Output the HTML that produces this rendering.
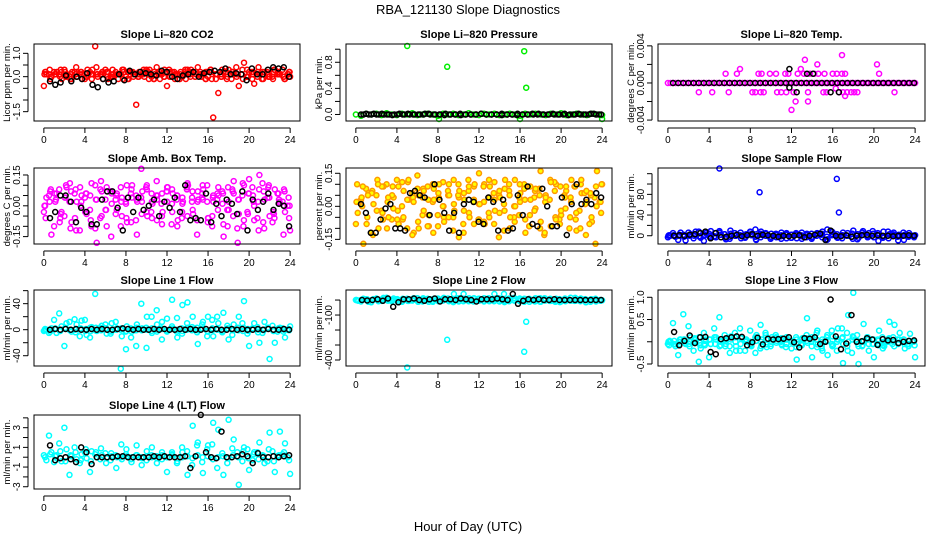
<!DOCTYPE html>
<html><head><meta charset="utf-8"><style>
html,body{margin:0;padding:0;background:#fff;}
svg{display:block;font-family:"Liberation Sans",sans-serif;}
</style></head><body>
<svg id="chart" width="936" height="540" viewBox="0 0 936 540">
<rect x="0" y="0" width="936" height="540" fill="#fff"/>
<text x="468" y="14" text-anchor="middle" font-size="13">RBA_121130  Slope Diagnostics</text>
<text x="468" y="531" text-anchor="middle" font-size="13">Hour of Day (UTC)</text>
</svg>
<script>
// ---- data arrays ----
const xTicks = [0,4,8,12,16,20,24];
const co2A = [-0.4,0.1,0.2,0.1,0.3,0.0,0.2,0.1,-0.1,0.2,1.3,0.1,0.3,0.0,0.2,0.1,0.0,0.2,-1.2,0.1,0.3,0.0,0.4,0.1,-0.4,0.2,0.1,0.0,0.3,0.2,0.4,0.1,0.0,-1.75,-0.7,0.2,0.3,0.1,-0.4,0.6,0.2,-0.3,0.1,0.2,0.0,0.3,0.1,-0.1,0.0];
const co2B = [0.1,0.0,0.2,-0.1,0.1,0.2,0.0,-0.1,0.3,0.1,0.0,-0.1,0.2,0.1,-0.1,0.3,0.2,0.1,0.0,0.2,0.1,-0.1,0.2,0.3,0.0,0.1,-0.1,0.2,0.1,0.0,0.2,-0.1,0.3,0.1,0.0,0.2,0.1,0.4,0.1,0.0,0.2,0.1,-0.1,0.2,0.0,0.1,0.3,0.1];
const co2C = [0.2,-0.1,0.1,0.3,0.0,0.1,0.4,0.2,0.0,-0.1,0.1,0.2,0.0,0.3,0.1,-0.1,0.2,0.0,0.1,0.3,-0.1,0.2,0.1,0.0,0.2,-0.1,0.1,0.3,0.0,0.2,0.1,-0.1,0.2,0.1,0.0,-0.1,0.2,0.1,0.3,0.0,0.1,0.2,-0.1,0.0,0.2,0.1,0.0,0.2];
const co2Black = [-0.2,-0.35,-0.25,0.05,-0.2,0.0,-0.1,0.15,-0.35,-0.45,-0.1,-0.25,-0.2,0.1,-0.15,0.25,0.1,0.2,0.15,0.1,0.05,0.25,0.2,0.0,-0.1,0.05,0.1,0.2,0.0,0.15,0.2,0.25,0.2,0.35,0.1,0.15,0.1,-0.15,0.35,0.1,0.1,0.3,0.4,0.35,0.4,0.0];

const presA = [0,-0.02,0.01,0,0.01,-0.01,0.02,0,-0.01,0.01,0,0.02,-0.01,0,0.01,0,-0.02,0.01,0,0.01,-0.01,0,0.02,0,-0.01,0.01,0,0.01,-0.01,0,0.01,0,-0.02,0.01,0,0.01,0,-0.01,0.01,0,0.02,-0.01,0,0.01,0,-0.01,0.01,0,-0.01];
const presOutX = [5.0,8.9,16.4,16.6,8.1,16.0,24.0];
const presOutY = [1.05,0.73,0.97,0.41,-0.07,-0.07,-0.07];
const presBlack = [0,0.01,0,0,0.01,0,-0.01,0,0,0.01,0,0,0,0.01,0,0,-0.01,0,0,0.01,0,0,0,0.01,0,0,0,-0.01,0,0,0.01,0,0,0,0.01,0,0,0,0,0.01,0,0,0,0,0.01,0,0];

const tempZero = [0,0,0,0,0,0,0,0,0,0,0,0,0,0,0,0,0,0,0,0,0,0,0,0,0,0,0,0,0,0,0,0,0,0,0,0,0,0,0,0,0,0,0,0,0,0,0,0,0,0,0,0,0,0,0,0,0,0,0,0,0,0,0,0,0,0,0,0,0,0,0,0,0,0,0,0,0,0,0,0,0,0,0,0,0,0,0,0,0,0,0,0,0,0,0,0,0];
const tempPosX = [5.6,6.7,8.8,9.1,9.9,10.5,11.4,11.7,12.6,13.2,13.8,14.2,14.6,15.2,16.0,16.4,16.9,17.2,20.5];
const tempNegX = [3.0,4.3,5.9,8.2,8.5,9.0,9.3,10.6,11.0,11.5,12.2,13.6,15.1,15.4,16.6,17.0,17.4,17.8,18.1,18.4,22.0];
const tempOutX = [7.0,12.9,13.3,14.5,16.9,20.3,16.3,17.2,12.4,13.6,12.0];
const tempOutY = [0.0015,0.0015,0.0025,0.002,0.003,0.002,-0.0006,-0.0014,-0.002,-0.002,-0.0029];
const tempBlackZero = [0,0,0,0,0,0,0,0,0,0,0,0,0,0,0,0,0,0,0,0,0,0,0,0,0,0,0,0,0,0,0,0,0,0,0,0,0,0,0,0,0,0,0,0,0,0,0,0];
const tempBlackX = [11.8,13.5,14.1,11.8,12.5,15.8,16.6];
const tempBlackY = [0.0015,0.001,0.001,-0.0005,-0.001,-0.001,-0.001];

const boxA = [-0.03,0.05,-0.1,0.08,-0.05,0.02,0.06,-0.12,0.04,-0.02,0.1,-0.06,0.03,0.07,-0.04,0.09,0.01,-0.08,0.05,0.18,-0.03,0.06,0.12,-0.05,0.02,0.08,-0.1,0.04,0.11,-0.02,0.07,0.03,-0.06,0.05,0.09,-0.09,0.02,0.06,-0.04,0.1,0.13,-0.07,0.15,0.03,-0.05,0.08,0.01,-0.03,-0.12];
const boxB = [0.04,-0.14,0.06,-0.03,0.09,-0.08,0.02,0.05,-0.04,0.11,-0.18,0.07,-0.1,0.01,0.06,-0.05,0.1,0.04,-0.14,0.02,0.08,-0.06,0.03,-0.09,0.07,0.01,0.05,-0.03,0.09,0.04,-0.07,0.06,0.02,-0.1,0.03,0.07,-0.02,0.08,-0.11,0.05,-0.03,0.09,-0.06,0.11,0.04,-0.08,0.06,0.02,0.0];
const boxC = [0.0,0.07,0.02,-0.06,0.04,-0.11,0.08,0.0,0.06,-0.07,0.03,0.12,-0.02,-0.15,0.05,0.02,-0.06,0.08,0.03,-0.04,0.1,0.02,-0.07,0.06,0.09,-0.03,0.05,0.01,-0.05,0.07,0.02,0.1,-0.08,0.04,-0.02,0.06,0.09,-0.05,0.03,-0.1,0.06,0.02,-0.12,0.07,0.1,-0.04,0.03,0.08,-0.06];
const boxBlack = [-0.06,-0.03,0.05,0.05,0.02,-0.08,-0.01,-0.03,-0.09,-0.09,0.03,0.07,0.07,-0.01,-0.12,0.04,-0.03,0.04,-0.02,0.0,0.03,-0.05,0.02,-0.01,0.04,-0.03,0.1,-0.07,-0.06,-0.07,0.06,-0.08,0.01,-0.05,0.03,0.01,-0.04,0.07,-0.12,0.03,-0.02,0.02,0.06,-0.02,0.01,0.0,-0.1];

const rhA = [-0.08,0.03,0.08,-0.12,0.05,-0.02,0.1,-0.06,0.12,0.0,-0.1,0.06,0.14,-0.04,0.09,0.02,-0.09,0.11,0.05,-0.05,0.1,-0.12,0.07,0.03,0.15,-0.07,0.04,0.11,-0.03,0.08,-0.1,0.12,0.02,-0.06,0.09,-0.01,0.16,0.05,-0.09,0.1,-0.04,0.07,0.12,-0.11,0.06,0.02,-0.07,0.16,0.1];
const rhB = [0.02,-0.17,0.06,0.01,-0.1,0.09,-0.05,0.04,-0.08,0.07,0.03,-0.12,0.05,-0.02,-0.09,0.08,0.04,-0.05,0.1,0.01,-0.14,0.06,-0.03,0.09,-0.06,0.02,0.12,-0.08,0.05,-0.11,0.07,0.0,-0.04,0.1,-0.09,0.04,0.08,-0.13,0.03,0.11,-0.06,0.05,-0.1,0.09,-0.02,0.06,-0.08,0.04,0.02];
const rhC = [0.1,0.0,-0.05,0.07,0.12,-0.03,0.02,0.09,-0.02,-0.06,0.11,0.04,-0.07,0.08,0.03,-0.12,0.06,0.0,-0.05,0.12,0.04,-0.02,0.09,-0.08,0.01,0.1,-0.05,0.03,0.07,-0.02,0.05,-0.07,0.1,0.03,-0.04,0.07,-0.1,0.02,0.12,-0.05,0.09,-0.01,0.04,-0.06,0.1,-0.13,0.05,0.09,-0.03];
const rhBlack = [0.01,-0.03,-0.12,-0.12,-0.06,-0.01,0.01,-0.1,-0.1,-0.11,0.06,0.07,0.05,0.04,-0.04,0.1,0.03,-0.03,-0.11,-0.03,-0.12,0.01,0.03,0.02,-0.07,-0.08,0.04,0.02,-0.11,0.03,-0.11,-0.1,0.05,-0.04,0.09,-0.08,-0.09,0.08,0.0,-0.09,-0.09,0.04,-0.13,0.01,0.1,0.01,0.03,0.01,0.06,0.04];

const sfA = [-3,5,-8,2,6,-5,8,-10,4,-2,9,3,-6,5,1,-4,7,12,-3,5,-2,4,-6,3,2,-5,6,1,-3,4,8,-7,3,-2,6,0,10,-4,2,5,-3,1,-2,3,0,-1,2,0,1];
const sfB = [0,-2,6,-9,3,8,-4,5,9,-3,2,-7,4,0,-5,3,1,-8,2,0,4,-3,1,5,-4,2,-1,3,-6,0,4,-2,8,-3,1,0,-2,3,6,-1,0,2,-1,0,1,-2,0,1,0];
const sfOutX = [5.0,8.9,16.4,16.6];
const sfOutY = [130,84,110,45];
const sfBlack = [0,1,0,2,3,5,8,-5,5,-3,-2,0,2,-1,1,3,0,2,1,0,-2,0,-1,0,1,-3,0,2,4,-8,10,0,-1,1,-2,0,1,2,0,1,0,0,-1,0,0,1,0];

const l1A = [-2,-5,15,25,-25,12,16,-10,15,-12,55,3,8,-6,12,-60,-30,-12,-25,40,-28,20,30,-15,17,46,-12,38,42,20,-22,12,20,-10,10,26,-15,8,20,44,-25,10,-20,12,-45,-20,3,-12,5];
const l1B = [0,2,-5,5,10,-3,8,14,-8,4,-2,6,-6,10,2,-10,5,-3,8,2,20,-5,8,12,-3,5,18,-6,10,4,-4,8,-10,15,20,-4,6,-8,3,10,-6,2,4,-5,3,6,-3,2,0];
const l1C = [1,-3,2,-2,3,0,-4,2,1,-2,3,-1,2,-3,0,2,-2,1,3,-1,0,2,-3,1,-1,2,0,-2,3,1,-1,2,-3,0,1,-2,2,0,-1,3,-2,1,0,-1,2,-2,1,0,-1];
const l1Black = [0,1,0,1,0,1,0,0,1,0,1,0,0,1,2,1,0,1,0,0,1,0,1,0,0,1,0,1,0,0,1,0,1,0,0,1,0,1,0,0,1,0,1,0,0,1,0];

const l2A = [0,-10,5,-15,10,-5,15,-8,0,-12,8,-4,12,-10,4,-6,10,-2,8,-14,6,40,-8,10,-4,12,-6,8,-10,4,-2,10,-8,6,0,12,-12,4,-6,8,-10,2,-4,6,0,-2,4,0,-2];
const l2B = [-5,8,-12,6,-8,14,-4,10,-14,2,-6,12,-10,5,-12,8,-4,14,-8,40,-6,2,12,-4,8,-10,2,-8,12,-6,10,-4,6,-12,8,-6,10,-2,4,-8,6,-4,2,-6,4,-2,0,2,0];
const l2OutX = [5.0,8.9,16.4,16.6];
const l2OutY = [-450,-265,-345,-145];
const l2Black = [0,-3,0,5,-5,10,-45,-15,5,5,10,0,-5,5,10,-10,5,5,0,10,5,0,-10,5,5,5,10,5,0,40,-25,-5,5,0,5,0,0,5,0,0,0,0,0,0,0,0,0];

const l3A = [-0.05,0.42,-0.3,0.62,0.35,-0.2,-0.45,0.2,-0.35,0.3,0.55,0.05,-0.1,0.1,-0.2,0.02,0.0,-0.25,0.38,0.15,-0.05,0.1,0.0,0.05,-0.15,-0.4,0.05,0.53,-0.35,0.25,-0.2,-0.3,0.12,0.3,-0.48,0.6,1.1,-0.5,0.4,-0.2,-0.35,0.25,-0.1,0.45,0.38,0.2,-0.15,0.18,-0.35];
const l3B = [0.0,-0.1,0.05,-0.05,0.1,0.0,-0.15,0.05,-0.05,0.1,-0.08,0.02,0.05,-0.1,0.08,0.0,-0.05,0.1,-0.1,0.05,0.0,0.08,-0.05,0.1,0.02,-0.12,0.05,0.15,-0.1,0.2,-0.15,0.1,0.25,-0.2,0.3,0.2,-0.25,0.15,-0.1,0.1,0.05,-0.05,0.1,0.0,-0.05,0.05,0.0,-0.05,0.0];
const l3C = [-0.08,0.02,-0.05,0.05,-0.1,0.08,-0.02,-0.08,0.05,-0.05,0.02,-0.1,0.1,0.0,-0.05,0.05,-0.08,0.02,0.0,-0.06,0.05,-0.02,0.08,-0.05,0.0,0.05,-0.08,0.02,0.1,-0.12,0.05,0.15,-0.1,0.05,0.1,-0.2,0.12,-0.05,0.0,0.05,-0.05,0.02,-0.08,0.05,0.0,-0.02,0.05,-0.06,0.02];
const l3Black = [0.22,-0.08,0.02,0.14,-0.03,0.1,0.11,-0.23,-0.28,0.06,0.08,0.1,0.12,0.11,-0.08,-0.01,0.09,-0.06,0.07,0.05,0.06,0.07,0.1,-0.01,-0.13,0.08,0.07,0.1,-0.05,0.0,0.95,0.12,-0.17,-0.04,0.6,0.0,0.01,0.08,0.05,-0.07,0.06,0.03,0.04,-0.03,0.0,0.02,0.03];

const l4A = [0.2,2.2,-0.5,1.4,3.0,-1.8,1.0,-0.6,0.5,-1.5,0.3,-0.2,0.4,-0.3,0.2,0.0,0.3,-0.2,0.2,0.0,-0.3,0.2,0.1,-0.2,-1.5,0.3,-0.4,0.5,-1.8,3.2,1.5,-1.6,1.2,3.5,2.8,-1.8,3.8,1.8,-2.8,1.0,-1.3,0.5,1.5,-0.6,2.5,-1.5,2.6,1.4,-1.7];
const l4B = [-0.3,0.5,0.2,-0.4,0.8,0.1,-0.2,0.3,-0.1,0.6,0.0,0.2,-0.1,0.1,0.0,-0.2,0.1,0.0,0.2,-0.1,0.1,0.0,-0.1,0.2,0.0,0.5,-0.6,1.0,0.6,-0.8,1.2,-0.5,0.8,1.3,-1.1,0.4,-0.6,0.9,0.5,-0.4,0.8,-0.3,0.5,0.2,-0.4,0.6,0.1,0.3,0.0];
const l4Black = [1.2,-0.3,-0.1,0.0,-0.2,-0.5,1.0,0.5,-0.7,0.0,0.0,0.0,0.0,0.1,0.1,0.0,0.0,0.0,0.0,0.0,0.1,0.0,0.1,0.0,0.0,0.0,0.1,-1.1,0.1,4.3,0.5,0.0,-0.1,2.6,0.0,0.0,0.1,0.3,0.1,-0.6,0.4,0.0,0.0,0.1,0.0,0.1,0.2];

// ---- layout ----
const NS = 'http://www.w3.org/2000/svg';
const svg = document.getElementById('chart');
const colX = [[34,300],[346,612],[658,925]];
const rowY = [[44,121],[168,244],[290,366],[415,489]];
const XMIN = -0.96, XMAX = 24.96;
const MAG = '#ff00ff', CY = '#00ffff';

function spread(ys, a, b){ const n = ys.length; return ys.map((y,i)=> a + (b-a)*i/(n-1)); }
function rev(arr){ return arr.slice().reverse(); }

const panels = [
 {name:'co2', title:'Slope Li–820 CO2', ylab:'Licor ppm per min.', c:0, r:0, ymin:-1.9, ymax:1.4, ticks:[-1.5,-1,-0.5,0,0.5,1], labels:[[-1.5,'-1.5'],[0,'0.0'],[1,'1.0']],
  series:[{ys:co2A,a:0,b:24,col:'red'},{ys:co2B,a:0.25,b:23.75,col:'red'},{ys:co2C,a:0.12,b:23.9,col:'red'},{ys:rev(co2B),a:0.06,b:23.85,col:'red'},{ys:rev(co2C),a:0.18,b:23.95,col:'red'},{ys:co2Black,a:0.6,b:23.9,col:'#000'}]},
 {name:'pressure', title:'Slope Li–820 Pressure', ylab:'kPa per min.', c:1, r:0, ymin:-0.10, ymax:1.08, ticks:[0,0.2,0.4,0.6,0.8,1.0], labels:[[0,'0.0'],[0.4,'0.4'],[0.8,'0.8']],
  series:[{ys:presA,a:0,b:24,col:'#00ee00'},{xs:presOutX,ys:presOutY,col:'#00ee00'},{ys:presBlack,a:0.5,b:23.9,col:'#000'},{ys:rev(presBlack),a:0.75,b:23.7,col:'#000'}]},
 {name:'temp', title:'Slope Li–820 Temp.', ylab:'degrees C per min.', c:2, r:0, ymin:-0.0041, ymax:0.0042, ticks:[-0.004,-0.002,0,0.002,0.004], labels:[[-0.004,'-0.004'],[0,'0.000'],[0.004,'0.004']],
  series:[{ys:tempZero,a:0,b:24,col:MAG},{xs:tempPosX,ys:tempPosX.map(()=>0.001),col:MAG},{xs:tempNegX,ys:tempNegX.map(()=>-0.001),col:MAG},{xs:tempOutX,ys:tempOutY,col:MAG},{ys:tempBlackZero,a:0.5,b:23.9,col:'#000'},{xs:tempBlackX,ys:tempBlackY,col:'#000'}]},
 {name:'box-temp', title:'Slope Amb. Box Temp.', ylab:'degrees C per min.', c:0, r:1, ymin:-0.186, ymax:0.184, ticks:[-0.15,-0.1,-0.05,0,0.05,0.1,0.15], labels:[[-0.15,'-0.15'],[0,'0.00'],[0.15,'0.15']],
  series:[{ys:boxA,a:0,b:24,col:MAG},{ys:boxB,a:0.25,b:23.75,col:MAG},{ys:boxC,a:0.12,b:23.9,col:MAG},{ys:rev(boxB),a:0.06,b:23.85,col:MAG},{ys:rev(boxC),a:0.18,b:23.95,col:MAG},{ys:boxBlack,a:0.6,b:23.9,col:'#000'}]},
 {name:'gas-rh', title:'Slope Gas Stream RH', ylab:'percent per min.', c:1, r:1, ymin:-0.171, ymax:0.174, ticks:[-0.15,-0.1,-0.05,0,0.05,0.1,0.15], labels:[[-0.15,'-0.15'],[0,'0.00'],[0.15,'0.15']],
  series:[{ys:rhA,a:0,b:24,col:'#ff9900',fill:'#ffff00'},{ys:rhB,a:0.25,b:23.75,col:'#ff9900',fill:'#ffff00'},{ys:rhC,a:0.12,b:23.9,col:'#ff9900',fill:'#ffff00'},{ys:rev(rhB),a:0.06,b:23.85,col:'#ff9900',fill:'#ffff00'},{ys:rev(rhC),a:0.18,b:23.95,col:'#ff9900',fill:'#ffff00'},{ys:rhBlack,a:0.5,b:23.9,col:'#000'}]},
 {name:'sample-flow', title:'Slope Sample Flow', ylab:'ml/min per min.', c:2, r:1, ymin:-16, ymax:131, ticks:[0,20,40,60,80,100,120], labels:[[0,'0'],[40,'40'],[80,'80']],
  series:[{ys:sfA,a:0,b:24,col:'#0000ff'},{ys:sfB,a:0.25,b:23.75,col:'#0000ff'},{ys:rev(sfA),a:0.12,b:23.9,col:'#0000ff'},{ys:rev(sfB),a:0.06,b:23.85,col:'#0000ff'},{xs:sfOutX,ys:sfOutY,col:'#0000ff'},{ys:sfBlack,a:0.6,b:23.9,col:'#000'}]},
 {name:'line1-flow', title:'Slope Line 1 Flow', ylab:'ml/min per min.', c:0, r:2, ymin:-55.8, ymax:61, ticks:[-40,-20,0,20,40,60], labels:[[-40,'-40'],[0,'0'],[40,'40']],
  series:[{ys:l1A,a:0,b:24,col:CY},{ys:l1B,a:0.25,b:23.75,col:CY},{ys:l1C,a:0.12,b:23.9,col:CY},{ys:rev(l1C),a:0.06,b:23.85,col:CY},{ys:l1Black,a:0.6,b:23.9,col:'#000'}]},
 {name:'line2-flow', title:'Slope Line 2 Flow', ylab:'ml/min per min.', c:1, r:2, ymin:-440, ymax:67, ticks:[-400,-300,-200,-100,0], labels:[[-400,'-400'],[-100,'-100']],
  series:[{ys:l2A,a:0,b:24,col:CY},{ys:l2B,a:0.25,b:23.75,col:CY},{ys:rev(l2A),a:0.12,b:23.9,col:CY},{ys:rev(l2B),a:0.06,b:23.85,col:CY},{xs:l2OutX,ys:l2OutY,col:CY},{ys:l2Black,a:0.6,b:23.9,col:'#000'}]},
 {name:'line3-flow', title:'Slope Line 3 Flow', ylab:'ml/min per min.', c:2, r:2, ymin:-0.545, ymax:1.164, ticks:[-0.5,0,0.5,1.0], labels:[[-0.5,'-0.5'],[0.5,'0.5'],[1,'1.0']],
  series:[{ys:l3A,a:0,b:24,col:CY},{ys:l3B,a:0.25,b:23.75,col:CY},{ys:l3C,a:0.12,b:23.9,col:CY},{ys:rev(l3B),a:0.06,b:23.85,col:CY},{ys:rev(l3C),a:0.18,b:23.95,col:CY},{ys:l3Black,a:0.6,b:23.9,col:'#000'}]},
 {name:'line4-flow', title:'Slope Line 4 (LT) Flow', ylab:'ml/min per min.', c:0, r:3, ymin:-3.23, ymax:4.29, ticks:[-3,-2,-1,0,1,2,3,4], labels:[[-3,'-3'],[-1,'-1'],[1,'1'],[3,'3']],
  series:[{ys:l4A,a:0,b:24,col:CY},{ys:l4B,a:0.25,b:23.75,col:CY},{ys:rev(l4B),a:0.12,b:23.9,col:CY},{ys:l4Black,a:0.6,b:23.9,col:'#000'}]}
];

function mk(tag, attrs, parent){ const e = document.createElementNS(NS, tag); for (const k in attrs) e.setAttribute(k, attrs[k]); (parent||svg).appendChild(e); return e; }

panels.forEach(p=>{
  const [x0,x1] = colX[p.c], [y0,y1] = rowY[p.r];
  const sx = v => x0 + (v - XMIN)/(XMAX - XMIN)*(x1 - x0);
  const sy = v => y1 - (v - p.ymin)/(p.ymax - p.ymin)*(y1 - y0);
  const g = mk('g', {});
  
  
  const pts = mk('g', {}, g);
  
  
  p.series.forEach(s=>{
    const xs = s.xs || spread(s.ys, s.a, s.b);
    s.ys.forEach((v,i)=>{
      const c = mk('circle', {cx:sx(xs[i]).toFixed(1), cy:sy(v).toFixed(1), r:2.5, fill:s.fill||'none', stroke:s.col, 'stroke-width':1.5}, pts);
      
      
    });
  });
  const bx = mk('rect', {x:x0, y:y0, width:x1-x0, height:y1-y0, fill:'none', stroke:'#000', 'stroke-width':1}, g);
  
  
  const t = mk('text', {x:(x0+x1)/2, y:y0-6, 'text-anchor':'middle', 'font-size':11, 'font-weight':'bold'}, g);
  t.textContent = p.title;
  
  
  const xa = mk('g', {}, g);
  
  
  mk('line', {x1:sx(0), x2:sx(24), y1:y1+7, y2:y1+7, stroke:'#000'}, xa);
  xTicks.forEach(v=>{
    mk('line', {x1:sx(v), x2:sx(v), y1:y1+7, y2:y1+12, stroke:'#000'}, xa);
    const tl = mk('text', {x:sx(v), y:y1+22, 'text-anchor':'middle', 'font-size':10}, xa);
    tl.textContent = v;
    
    
  });
  const ya = mk('g', {}, g);
  
  
  const ax = x0 - 6;
  mk('line', {x1:ax, x2:ax, y1:sy(p.ticks[0]), y2:sy(p.ticks[p.ticks.length-1]), stroke:'#000'}, ya);
  p.ticks.forEach(v=> mk('line', {x1:ax-5, x2:ax, y1:sy(v), y2:sy(v), stroke:'#000'}, ya));
  p.labels.forEach(([v,s])=>{
    const tl = mk('text', {x:0, y:0, 'text-anchor':'middle', 'font-size':10, transform:`translate(${ax-8},${sy(v)}) rotate(-90)`}, ya);
    tl.textContent = s;
    
    
  });
  const yl = mk('text', {x:0, y:0, 'text-anchor':'middle', 'font-size':9.5, transform:`translate(${x0-24},${(y0+y1)/2}) rotate(-90)`}, g);
  yl.textContent = p.ylab;
  
  
});
</script>
</body></html>
